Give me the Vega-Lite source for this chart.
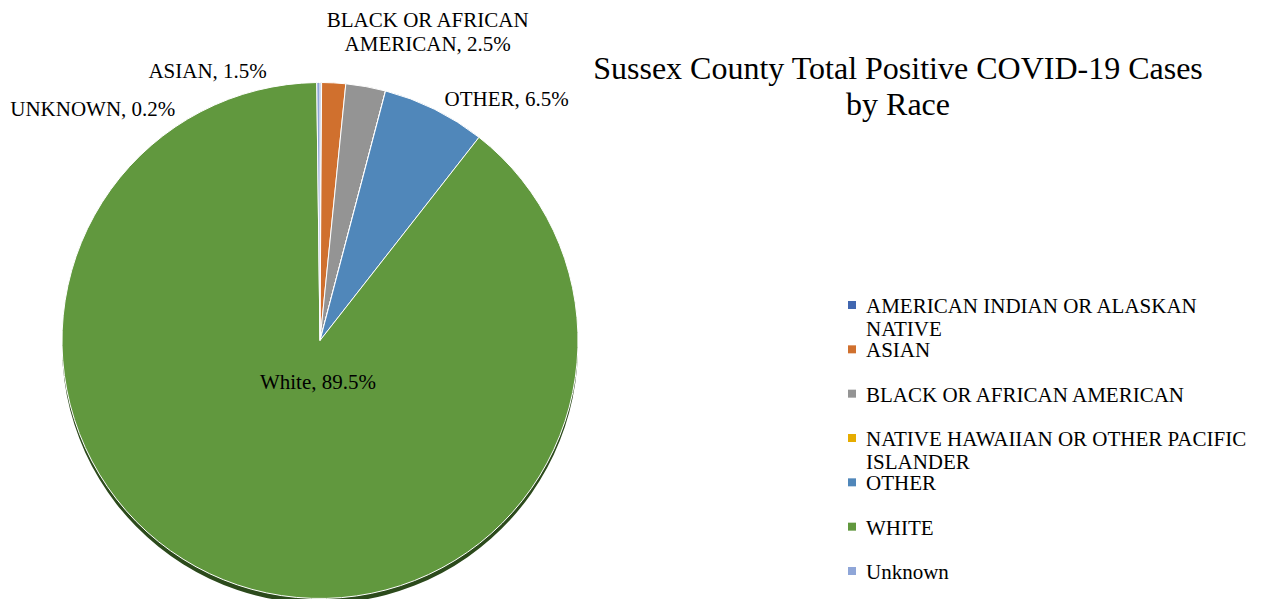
{
  "$schema": "https://vega.github.io/schema/vega-lite/v6.json",
  "width": 640,
  "height": 517,
  "autosize": "none",
  "padding": {"left": 0, "top": 82, "right": 636, "bottom": 0},
  "background": "white",
  "config": {"view": {"stroke": null}, "font": "Liberation Serif"},
  "title": {
    "text": ["Sussex County Total Positive COVID-19 Cases", "by Race"],
    "font": "Liberation Serif",
    "fontSize": 32,
    "fontWeight": "normal",
    "color": "black",
    "anchor": "middle",
    "lineHeight": 36,
    "dx": 578,
    "dy": 116
  },
  "data": {
    "values": [
      {"race": "AMERICAN INDIAN OR ALASKAN NATIVE", "pct": 0.1, "rank": 1, "label": "", "legendText": "AMERICAN INDIAN OR ALASKAN\nNATIVE"},
      {"race": "ASIAN", "pct": 1.5, "rank": 2, "label": "ASIAN, 1.5%", "legendText": "ASIAN"},
      {"race": "BLACK OR AFRICAN AMERICAN", "pct": 2.5, "rank": 3, "label": "BLACK OR AFRICAN\nAMERICAN, 2.5%", "legendText": "BLACK OR AFRICAN AMERICAN"},
      {"race": "NATIVE HAWAIIAN OR OTHER PACIFIC ISLANDER", "pct": 0.0, "rank": 4, "label": "", "legendText": "NATIVE HAWAIIAN OR OTHER PACIFIC\nISLANDER"},
      {"race": "OTHER", "pct": 6.5, "rank": 5, "label": "OTHER, 6.5%", "legendText": "OTHER"},
      {"race": "WHITE", "pct": 89.5, "rank": 6, "label": "White, 89.5%", "legendText": "WHITE"},
      {"race": "Unknown", "pct": 0.2, "rank": 7, "label": "UNKNOWN, 0.2%", "legendText": "Unknown"}
    ]
  },
  "encoding": {
    "theta": {"field": "pct", "type": "quantitative", "stack": true},
    "order": {"field": "rank", "type": "quantitative"},
    "color": {
      "field": "race",
      "type": "nominal",
      "scale": {
        "domain": ["AMERICAN INDIAN OR ALASKAN NATIVE", "ASIAN", "BLACK OR AFRICAN AMERICAN", "NATIVE HAWAIIAN OR OTHER PACIFIC ISLANDER", "OTHER", "WHITE", "Unknown"],
        "range": ["#4167B0", "#D0702E", "#949494", "#E6AC00", "#5087BA", "#61983E", "#8FA6D8"]
      },
      "legend": null
    }
  },
  "layer": [
    {
      "mark": {"type": "arc", "outerRadius": 258, "color": "#2C4A1C", "y": {"expr": "height/2 + 5"}},
      "encoding": {"color": {"value": "#2C4A1C"}}
    },
    {
      "mark": {"type": "arc", "outerRadius": 258, "stroke": "white", "strokeWidth": 1}
    },
    {
      "mark": {"type": "square", "size": 64, "opacity": 1, "x": 852},
      "encoding": {
        "theta": null,
        "y": {
          "field": "race",
          "type": "nominal",
          "sort": ["AMERICAN INDIAN OR ALASKAN NATIVE", "ASIAN", "BLACK OR AFRICAN AMERICAN", "NATIVE HAWAIIAN OR OTHER PACIFIC ISLANDER", "OTHER", "WHITE", "Unknown"],
          "scale": {"type": "point", "range": [223, 489], "padding": 0},
          "axis": null
        }
      }
    },
    {
      "mark": {"type": "text", "x": 866, "align": "left", "baseline": "alphabetic", "dy": 8, "font": "Liberation Serif", "fontSize": 21, "color": "black", "lineBreak": "\n", "lineHeight": 23},
      "encoding": {
        "theta": null,
        "color": null,
        "y": {
          "field": "race",
          "type": "nominal",
          "sort": ["AMERICAN INDIAN OR ALASKAN NATIVE", "ASIAN", "BLACK OR AFRICAN AMERICAN", "NATIVE HAWAIIAN OR OTHER PACIFIC ISLANDER", "OTHER", "WHITE", "Unknown"],
          "scale": {"type": "point", "range": [223, 489], "padding": 0},
          "axis": null
        },
        "text": {"field": "legendText"}
      }
    },
    {
      "transform": [{"filter": "datum.race == 'Unknown'"}],
      "mark": {"type": "text", "radius": 290, "font": "Liberation Serif", "fontSize": 21, "color": "black", "dx": -229, "dy": 59},
      "encoding": {"color": null, "text": {"field": "label"}}
    },
    {
      "transform": [{"filter": "datum.race == 'ASIAN'"}],
      "mark": {"type": "text", "radius": 290, "font": "Liberation Serif", "fontSize": 21, "color": "black", "dx": -126, "dy": 21},
      "encoding": {"color": null, "text": {"field": "label"}}
    },
    {
      "transform": [{"filter": "datum.race == 'BLACK OR AFRICAN AMERICAN'"}],
      "mark": {"type": "text", "radius": 290, "font": "Liberation Serif", "fontSize": 21, "color": "black", "lineBreak": "\n", "lineHeight": 24, "dx": 85, "dy": -30},
      "encoding": {"color": null, "text": {"field": "label"}}
    },
    {
      "transform": [{"filter": "datum.race == 'OTHER'"}],
      "mark": {"type": "text", "radius": 290, "font": "Liberation Serif", "fontSize": 21, "color": "black", "dx": 128, "dy": 44},
      "encoding": {"color": null, "text": {"field": "label"}}
    },
    {
      "transform": [{"filter": "datum.race == 'WHITE'"}],
      "mark": {"type": "text", "radius": 45, "font": "Liberation Serif", "fontSize": 21, "color": "black", "dx": -17, "dy": 0},
      "encoding": {"color": null, "text": {"field": "label"}}
    }
  ]
}
